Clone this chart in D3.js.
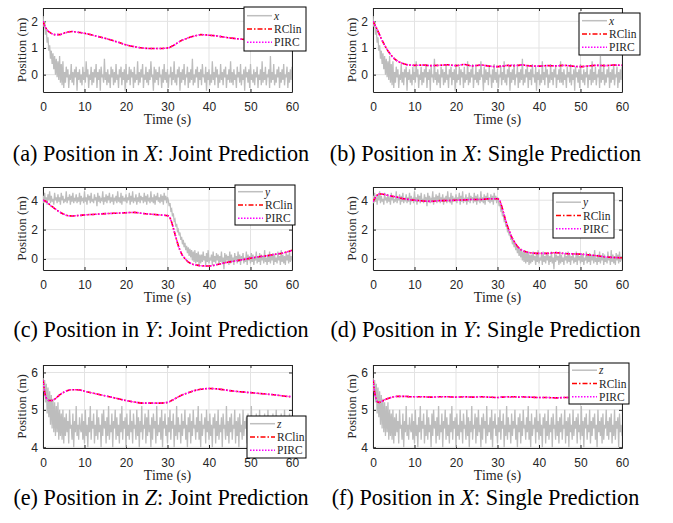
<!DOCTYPE html>
<html><head><meta charset="utf-8">
<script src="https://cdn.jsdelivr.net/npm/d3@7"></script>
<style>body{margin:0;background:#fff;} svg{display:block;}</style>
</head><body>
<svg id="fig" width="673" height="523"></svg>
<script>
// measured positions, one sample every 0.2 s from 0 to 60 s
const NOISE_DT = 0.2;
const xMeas = [2.2,1.8,2.0,1.5,1.7,1.2,1.4,0.9,1.1,0.6,0.9,0.4,0.8,0.2,0.7,0.0,0.6,-0.1,0.5,-0.2,0.7,-0.3,0.4,-0.4,0.5,-0.5,
  0.1,-0.3,0.3,-0.1,0.2,-0.5,0.0,-0.2,0.4,-0.3,0.1,-0.4,0.2,-0.1,0.3,-0.6,0.1,-0.2,0.2,-0.3,
  0.0,-0.4,0.3,-0.2,0.1,-0.3,0.5,-0.1,0.2,-0.5,0.0,-0.2,0.3,-0.4,0.1,-0.3,0.2,-0.1,0.4,-0.5,
  0.1,-0.2,0.2,-0.6,0.3,-0.1,0.0,-0.3,0.6,-0.2,0.1,-0.4,0.2,-0.3,0.0,-0.5,0.3,-0.1,0.2,-0.4,
  0.1,-0.3,0.4,-0.2,0.0,-0.5,0.2,-0.1,0.3,-0.4,0.1,-0.2,0.2,-0.6,0.4,-0.3,0.0,-0.2,0.3,-0.4,
  0.2,-0.1,0.1,-0.5,0.3,-0.3,0.0,-0.2,0.5,-0.4,0.1,-0.3,0.2,-0.1,0.4,-0.5,0.0,-0.2,0.3,-0.3,
  0.1,-0.4,0.2,-0.2,0.5,-0.1,0.0,-0.6,0.3,-0.3,0.2,-0.2,0.1,-0.4,0.3,-0.1,0.0,-0.5,0.2,-0.3,
  0.4,-0.2,0.1,-0.3,0.2,-0.5,0.0,-0.1,0.3,-0.4,0.1,-0.2,0.5,-0.3,0.0,-0.4,0.2,-0.1,0.3,-0.6,
  0.1,-0.3,0.2,-0.2,0.4,-0.4,0.0,-0.1,0.3,-0.5,0.1,-0.3,0.2,-0.2,0.6,-0.4,0.0,-0.3,0.2,-0.1,
  0.3,-0.5,0.1,-0.2,0.2,-0.4,0.4,-0.1,0.0,-0.3,0.3,-0.6,0.1,-0.2,0.2,-0.4,0.0,-0.3,0.5,-0.2,
  0.1,-0.4,0.3,-0.1,0.2,-0.5,0.0,-0.3,0.4,-0.2,0.1,-0.4,0.2,-0.1,0.3,-0.5,0.0,-0.2,0.2,-0.3,
  0.5,-0.3,0.1,-0.4,0.2,-0.2,0.0,-0.5,0.3,-0.1,0.1,-0.3,0.4,-0.4,0.0,-0.2,0.2,-0.6,0.3,-0.1,
  0.1,-0.3,0.2,-0.5,0.4,-0.2,0.0,-0.3,0.2,-0.4,0.1,-0.1,0.3,-0.5,0.0,-0.2,0.2,-0.4,0.5,-0.3,
  0.1,-0.2,0.3,-0.4,0.0,-0.1,0.2,-0.5,0.7,-0.3,0.1,-0.2,0.4,-0.4,0.0,-0.3,0.2,-0.1,0.3,-0.5,
  0.1,-0.3,0.2,-0.2,0.4,-0.4,0.0,-0.1,0.3,-0.5,0.1,-0.3,0.2,-0.2,0.3];
const yMeas = [4.3,3.8,4.5,3.9,4.2,3.7,4.4,4.0,4.6,3.8,4.3,3.9,4.1,3.7,4.5,4.0,4.2,3.8,4.4,3.9,
  4.2,3.7,4.5,4.0,4.3,3.8,4.1,3.9,4.6,3.8,4.2,4.0,4.4,3.7,4.3,3.9,4.5,3.8,4.1,4.0,
  4.4,3.8,4.2,3.9,4.5,3.7,4.3,4.0,4.1,3.8,4.6,3.9,4.2,3.7,4.4,4.0,4.3,3.8,4.5,3.9,
  4.1,3.8,4.4,4.0,4.2,3.6,4.5,3.9,4.3,3.8,4.1,4.0,4.6,3.7,4.2,3.9,4.4,3.8,4.3,4.0,
  4.5,3.8,4.2,3.9,4.4,3.7,4.1,4.0,4.3,3.8,4.6,3.9,4.2,3.8,4.5,3.7,4.3,4.0,4.1,3.9,
  4.4,3.8,4.2,4.0,4.5,3.7,4.3,3.9,4.6,3.8,4.1,4.0,4.4,3.7,4.2,3.9,4.5,3.8,4.3,4.0,
  4.2,3.8,4.5,3.9,4.3,3.7,4.4,4.0,4.1,3.8,4.6,3.9,4.2,3.8,4.4,3.7,4.3,4.0,4.5,3.9,
  4.2,3.8,4.4,3.9,4.3,3.7,4.5,4.0,4.3,3.8,4.2,
  4.0,3.6,3.8,3.3,3.4,2.9,3.1,2.6,2.7,2.2,2.4,1.9,2.0,1.6,1.8,1.3,1.5,1.0,1.3,0.8,
  1.1,0.6,0.9,0.4,0.8,0.2,0.7,0.1,0.6,-0.1,0.5,-0.2,0.6,-0.3,0.4,-0.2,0.5,-0.4,0.3,-0.3,
  0.3,-0.2,0.5,-0.1,0.2,-0.4,0.4,-0.2,0.6,-0.3,0.1,-0.1,0.3,-0.4,0.5,-0.2,0.2,-0.3,0.4,-0.1,
  0.3,-0.4,0.2,-0.2,0.5,-0.3,0.1,-0.7,0.4,-0.2,0.3,-0.1,0.2,-0.4,0.5,-0.3,0.3,-0.2,0.1,-0.4,
  0.4,-0.1,0.2,-0.3,0.5,-0.2,0.3,-0.4,0.2,-0.1,0.4,-0.3,0.1,-0.2,0.5,-0.4,0.3,-0.1,0.2,-0.3,
  0.4,-0.2,0.3,-0.4,0.1,-0.1,0.5,-0.3,0.2,-0.2,0.4,-0.4,0.3,-0.1,0.2,-0.3,0.6,-0.2,0.1,-0.4,
  0.3,-0.2,0.5,-0.3,0.2,-0.1,0.4,-0.4,0.3,-0.2,0.1,-0.3,0.5,-0.1,0.2,-0.4,0.6,-0.2,0.3,-0.3,
  0.2,-0.4,0.4,-0.1,0.3,-0.3,0.5,-0.2,0.2,-0.1];
const zMeas = [5.85,5.5,5.8,5.2,5.7,4.9,5.6,4.8,5.5,4.6,5.4,4.5,5.3,4.4,5.2,4.3,5.1,4.4,5.2,4.2,5.0,4.3,4.9,4.2,5.0,4.1,
  4.8,4.3,4.9,4.4,4.7,4.1,5.0,4.5,4.6,4.2,4.9,4.0,4.7,4.4,5.1,4.3,4.6,4.2,4.8,4.5,
  4.4,4.9,4.2,4.7,4.1,5.0,4.3,4.6,4.0,4.8,4.4,5.1,4.2,4.7,4.5,4.9,4.1,4.6,4.3,5.0,
  4.2,4.8,4.4,4.6,4.0,4.9,4.3,5.0,4.5,4.7,4.1,4.8,4.3,5.1,4.2,4.6,4.4,4.9,4.0,4.7,
  4.5,5.0,4.2,4.8,4.3,4.6,4.1,4.9,4.4,5.1,4.2,4.7,4.5,4.8,4.0,4.9,4.3,4.6,4.2,5.0,
  4.4,4.7,4.1,4.9,4.5,4.6,4.2,5.0,4.3,4.8,4.0,4.7,4.4,5.1,4.2,4.6,4.5,4.9,4.1,4.8,
  4.3,5.0,4.4,4.6,4.0,4.8,4.2,4.9,4.5,4.7,4.1,5.1,4.3,4.6,4.4,4.8,4.2,5.0,4.0,4.7,
  4.5,4.9,4.3,4.6,4.1,4.8,4.4,5.0,4.2,4.7,4.5,4.9,4.0,4.6,4.3,5.1,4.2,4.8,4.4,4.6,
  4.1,4.9,4.3,4.7,4.5,5.0,4.2,4.6,4.0,4.8,4.4,4.9,4.1,4.7,4.3,5.0,4.5,4.6,4.2,4.8,
  4.4,5.1,4.2,4.7,4.0,4.9,4.3,4.6,4.5,4.8,4.1,5.0,4.4,4.7,4.2,4.9,4.3,4.6,4.0,4.8,
  4.5,4.9,4.1,4.7,4.3,5.0,4.2,4.6,4.4,4.8,4.0,4.9,4.5,4.6,4.2,5.1,4.3,4.7,4.1,4.8,
  4.4,4.9,4.2,4.6,4.5,5.0,4.1,4.7,4.3,4.8,4.0,4.9,4.4,4.6,4.2,5.0,4.3,4.7,4.5,4.8,
  4.1,4.9,4.4,4.6,4.2,5.1,4.3,4.7,4.0,4.8,4.5,4.9,4.2,4.6,4.4,5.0,4.1,4.7,4.3,4.8,
  4.5,4.9,4.2,4.6,4.0,5.0,4.4,4.7,4.3,4.8,4.1,4.9,4.2,4.6,4.5,5.0,4.3,4.7,4.2,4.8,
  4.4,4.9,4.1,4.6,4.3,5.0,4.2,4.7,4.5,4.8,4.0,4.9,4.4,4.6,4.3];

// predicted positions (RClin and PIRC overlap almost exactly)
const predT = [0,0.5,1,1.5,2,3,4,5,6,7,8,9,10,12,14,16,18,20,22,24,26,28,30,
  30.5,31,31.5,32,32.5,33,33.5,34,35,36,37,38,40,42,44,46,48,50,52,54,56,58,60];
const xJoint = [2.0,1.8,1.68,1.6,1.55,1.5,1.5,1.55,1.6,1.62,1.6,1.58,1.55,1.48,1.4,1.32,1.22,1.12,1.05,1.0,0.98,0.98,1.0,
  1.02,1.06,1.1,1.15,1.2,1.25,1.29,1.32,1.38,1.43,1.47,1.5,1.48,1.45,1.4,1.36,1.33,1.3,1.28,1.26,1.24,1.22,1.2];
const xSingle = [2.0,1.85,1.7,1.52,1.35,1.05,0.8,0.62,0.5,0.43,0.38,0.36,0.35,0.36,0.34,0.35,0.37,0.34,0.38,0.33,0.36,0.32,0.3,
  0.31,0.33,0.32,0.34,0.35,0.33,0.36,0.34,0.35,0.37,0.34,0.33,0.32,0.34,0.33,0.35,0.32,0.3,0.33,0.35,0.34,0.36,0.35];
const yJoint = [4.0,3.95,3.85,3.72,3.6,3.4,3.2,3.05,2.95,2.93,2.95,2.97,3.0,3.03,3.07,3.1,3.12,3.15,3.17,3.1,3.05,3.0,2.95,
  2.85,2.5,2.0,1.5,1.0,0.6,0.3,0.1,-0.2,-0.35,-0.42,-0.46,-0.48,-0.38,-0.25,-0.15,-0.05,0.05,0.15,0.22,0.32,0.42,0.6];
const ySingle = [3.9,4.15,4.35,4.42,4.42,4.38,4.3,4.25,4.2,4.12,4.08,4.03,4.0,3.95,3.92,3.97,3.98,4.0,4.02,4.05,4.05,4.1,4.1,
  4.0,3.6,3.1,2.6,2.15,1.8,1.45,1.2,0.8,0.58,0.47,0.42,0.38,0.38,0.43,0.38,0.35,0.33,0.28,0.22,0.14,0.1,0.08];
const zJoint = [5.8,5.42,5.28,5.25,5.25,5.3,5.4,5.47,5.52,5.54,5.54,5.53,5.5,5.45,5.4,5.35,5.3,5.25,5.21,5.18,5.18,5.18,5.2,
  5.22,5.25,5.28,5.31,5.34,5.37,5.4,5.42,5.46,5.5,5.53,5.55,5.57,5.56,5.53,5.5,5.48,5.46,5.44,5.42,5.4,5.37,5.35];
const zSingle = [5.8,5.4,5.22,5.2,5.22,5.28,5.32,5.35,5.36,5.36,5.36,5.35,5.35,5.35,5.34,5.35,5.35,5.34,5.35,5.34,5.35,5.34,5.33,
  5.33,5.34,5.34,5.35,5.35,5.34,5.35,5.35,5.34,5.35,5.34,5.34,5.33,5.33,5.32,5.33,5.33,5.34,5.34,5.33,5.34,5.33,5.34];

const xTicks = [0,10,20,30,40,50,60];
const legendNames = ['RClin','PIRC'];

const panels = [
  {meas:xMeas, pred:xJoint,  sym:'x', yDom:[-0.65,2.5], yTicks:[0,1,2], left:43,  top:8,   h:84, leg:[244,7,62,44],   cap:['(a) Position in ','X',': Joint Prediction'],  capX:161,   capY:161},
  {meas:xMeas, pred:xSingle, sym:'x', yDom:[-0.65,2.5], yTicks:[0,1,2], left:373, top:8,   h:84, leg:[579,13,61,42],  cap:['(b) Position in ','X',': Single Prediction'], capX:485.5, capY:161},
  {meas:yMeas, pred:yJoint,  sym:'y', yDom:[-0.75,4.9], yTicks:[0,2,4], left:43,  top:187, h:83, leg:[235,185,60,40], cap:['(c) Position in ','Y',': Joint Prediction'],  capX:161,   capY:337},
  {meas:yMeas, pred:ySingle, sym:'y', yDom:[-0.75,4.9], yTicks:[0,2,4], left:373, top:187, h:83, leg:[553,193,61,45], cap:['(d) Position in ','Y',': Single Prediction'], capX:485.5, capY:337},
  {meas:zMeas, pred:zJoint,  sym:'z', yDom:[3.98,6.2],  yTicks:[4,5,6], left:43,  top:365, h:83, leg:[247,416,59,42], cap:['(e) Position in ','Z',': Joint Prediction'],  capX:161,   capY:505},
  {meas:zMeas, pred:zSingle, sym:'z', yDom:[3.98,6.2],  yTicks:[4,5,6], left:373, top:365, h:83, leg:[569,363,60,41], cap:['(f) Position in ','X',': Single Prediction'], capX:485.5, capY:505}
];

const W = 249;
const AX = '#262626';
const SERIF = '"Liberation Serif","Times New Roman",serif';
const SANS = '"Liberation Sans",Arial,sans-serif';
const svg = d3.select('#fig');

panels.forEach((p, i) => {
  let g = svg.append('g').attr('transform', `translate(${p.left},${p.top})`);
  let x = d3.scaleLinear().domain([0,60]).range([0,W]);
  let y = d3.scaleLinear().domain(p.yDom).range([p.h,0]);

  svg.append('clipPath').attr('id','clip'+i)
    .append('rect').attr('x',p.left).attr('y',p.top).attr('width',W).attr('height',p.h);

  // grid
  g.append('g').selectAll('line').data(xTicks).join('line')
    .attr('x1', d => x(d)).attr('x2', d => x(d)).attr('y1',0).attr('y2',p.h)
    .attr('stroke','#e3e3e3').attr('stroke-width',1);
  g.append('g').selectAll('line').data(p.yTicks).join('line')
    .attr('x1',0).attr('x2',W).attr('y1', d => y(d)).attr('y2', d => y(d))
    .attr('stroke','#e3e3e3').attr('stroke-width',1);

  let lines = svg.append('g').attr('clip-path',`url(#clip${i})`)
    .append('g').attr('transform', `translate(${p.left},${p.top})`);

  let measLine = d3.line().x((d,k) => x(k*NOISE_DT)).y(d => y(d));
  lines.append('path').datum(p.meas).attr('d', measLine)
    .attr('fill','none').attr('stroke','#bdbdbd').attr('stroke-width',1.3);

  let predLine = d3.line().x((d,k) => x(predT[k])).y(d => y(d)).curve(d3.curveMonotoneX);
  lines.append('path').datum(p.pred).attr('d', predLine)
    .attr('fill','none').attr('stroke','#ff0000').attr('stroke-width',1.6)
    .attr('stroke-dasharray','5,2,1.5,2');
  lines.append('path').datum(p.pred).attr('d', predLine)
    .attr('fill','none').attr('stroke','#ff00ff').attr('stroke-width',1.6)
    .attr('stroke-dasharray','1.5,1.5');

  // axes, MATLAB-like box with inward ticks
  g.append('g').attr('transform',`translate(0,${p.h})`)
    .call(d3.axisBottom(x).tickValues(xTicks).tickSizeInner(-3).tickSizeOuter(0).tickPadding(10).tickFormat(d3.format('d')));
  g.append('g')
    .call(d3.axisLeft(y).tickValues(p.yTicks).tickSizeInner(-3).tickSizeOuter(0).tickPadding(5).tickFormat(d3.format('d')));
  g.append('g')
    .call(d3.axisTop(x).tickValues(xTicks).tickSizeInner(-3).tickSizeOuter(0).tickFormat(''));
  g.append('g').attr('transform',`translate(${W},0)`)
    .call(d3.axisRight(y).tickValues(p.yTicks).tickSizeInner(-3).tickSizeOuter(0).tickFormat(''));
  g.selectAll('.domain').attr('stroke',AX);
  g.selectAll('.tick line').attr('stroke',AX);
  g.selectAll('.tick text').attr('fill',AX).style('font-family',SANS).style('font-size','12px');

  g.append('text').attr('x',W/2).attr('y',p.h+32).attr('text-anchor','middle')
    .style('font-family',SERIF).style('font-size','14px').attr('fill',AX).text('Time (s)');
  g.append('text').attr('transform',`translate(-17,${p.h/2}) rotate(-90)`).attr('text-anchor','middle')
    .style('font-family',SERIF).style('font-size','13px').attr('fill',AX).text('Position (m)');

  // legend
  let [lx,ly,lw,lh] = p.leg;
  let lg = svg.append('g').attr('transform',`translate(${lx},${ly})`);
  lg.append('rect').attr('width',lw).attr('height',lh).attr('fill','#fff').attr('stroke','#000').attr('stroke-width',1);
  let rows = [p.sym].concat(legendNames);
  let styles = [
    {c:'#bfbfbf', dash:null, w:1.5},
    {c:'#ff0000', dash:'5,2,1.5,2', w:1.6},
    {c:'#ff00ff', dash:'1.5,1.5', w:1.6}
  ];
  let step = 13.3;
  let first = (lh - 2*step)/2;
  rows.forEach((name, r) => {
    let ry = first + r*step;
    lg.append('line').attr('x1',3).attr('x2',28).attr('y1',ry).attr('y2',ry)
      .attr('stroke',styles[r].c).attr('stroke-width',styles[r].w)
      .attr('stroke-dasharray',styles[r].dash);
    lg.append('text').attr('x',30).attr('y',ry+4)
      .style('font-family',SERIF).style('font-size','11.5px')
      .style('font-style', r==0 ? 'italic' : 'normal')
      .attr('fill',AX).text(name);
  });

  // caption under each subplot
  let cap = svg.append('text').attr('x',p.capX).attr('y',p.capY).attr('text-anchor','middle')
    .style('font-family',SERIF).style('font-size','22.2px').attr('fill','#000');
  cap.append('tspan').text(p.cap[0]);
  cap.append('tspan').style('font-style','italic').text(p.cap[1]);
  cap.append('tspan').text(p.cap[2]);
});
</script>
</body></html>
